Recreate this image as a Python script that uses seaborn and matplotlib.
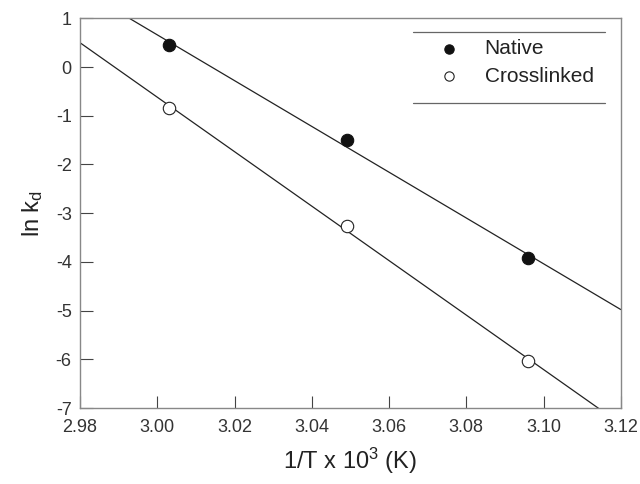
import numpy as np
import pandas as pd
import matplotlib
matplotlib.use("Agg")
import matplotlib.pyplot as plt
import seaborn as sns

inv_T = [3.003, 3.049, 3.096]
native = [0.45, -1.50, -3.92]
crosslinked = [-0.83, -3.27, -6.03]
xticks = [2.98, 3.00, 3.02, 3.04, 3.06, 3.08, 3.10, 3.12]
yticks = [1, 0, -1, -2, -3, -4, -5, -6, -7]

sns.set_style("ticks")
plt.rcParams['font.family'] = ['Liberation Sans', 'DejaVu Sans']
plt.rcParams['mathtext.fontset'] = 'custom'
plt.rcParams['mathtext.rm'] = 'Liberation Sans'
plt.rcParams['mathtext.it'] = 'Liberation Sans'

fig, ax = plt.subplots(figsize=(6.4, 4.84), dpi=100)
fig.subplots_adjust(left=0.125, right=0.97, top=0.962, bottom=0.157)
ax.set_xlim(2.98, 3.12)
ax.set_ylim(-7, 1)

df_n = pd.DataFrame({"x": inv_T, "y": native})
df_c = pd.DataFrame({"x": inv_T, "y": crosslinked})

sns.regplot(data=df_n, x="x", y="y", ax=ax, ci=None, truncate=False,
            scatter=False, line_kws=dict(color="#222222", lw=0.9))
sns.regplot(data=df_c, x="x", y="y", ax=ax, ci=None, truncate=False,
            scatter=False, line_kws=dict(color="#222222", lw=0.9))
sns.scatterplot(data=df_n, x="x", y="y", ax=ax, color="#111111", s=80,
                edgecolor="#111111", linewidth=0.8, zorder=3, label="Native")
sns.scatterplot(data=df_c, x="x", y="y", ax=ax, color="white", s=80,
                edgecolor="#222222", linewidth=0.8, zorder=3, label="Crosslinked")

ax.set_xlim(2.98, 3.12)
ax.set_ylim(-7, 1)
ax.set_xticks(xticks)
ax.set_xticklabels([f"{v:.2f}" for v in xticks])
ax.set_yticks(yticks)
ax.set_yticklabels([f"{v}" for v in yticks])
ax.tick_params(direction="in", length=9, width=0.8, color="#444444",
               labelsize=13, labelcolor="#333333", pad=6)
ax.tick_params(axis="x", pad=8)
for s in ax.spines.values():
    s.set_color("#888888")
    s.set_linewidth(1.0)

ax.set_xlabel(r"1/T x 10$^{3}$ (K)", fontsize=17, color="#222222", labelpad=7)
ax.set_ylabel(r"ln k$_{\rm d}$", fontsize=17, color="#222222", labelpad=8)

leg = ax.legend(loc="center", bbox_to_anchor=(0.797, 0.887), frameon=False,
                fontsize=15, handletextpad=0.7, labelspacing=0.4, borderpad=0,
                markerscale=0.75)
for t in leg.get_texts():
    t.set_color("#222222")
ax.plot([0.615, 0.97], [0.965, 0.965], transform=ax.transAxes, color="#666666", lw=0.9, clip_on=False)
ax.plot([0.615, 0.97], [0.782, 0.782], transform=ax.transAxes, color="#666666", lw=0.9, clip_on=False)

fig.savefig("out.png", dpi=100)
